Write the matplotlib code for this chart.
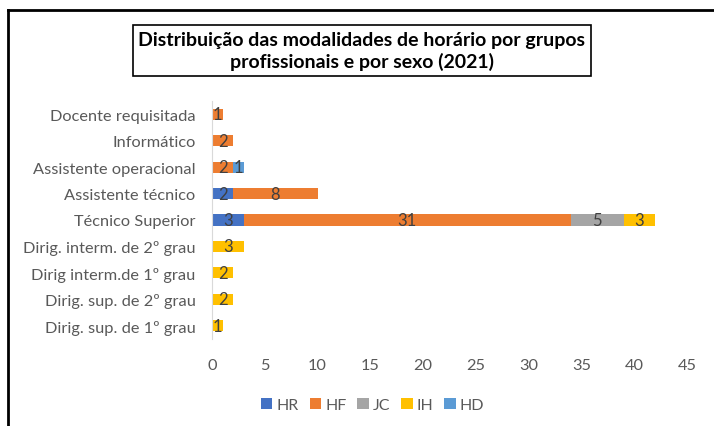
import matplotlib
matplotlib.use("Agg")
from matplotlib import pyplot as plt
from matplotlib.lines import Line2D
import numpy as np

plt.rcParams['font.family'] = ['Lato', 'DejaVu Sans']

categories = [
    "Dirig. sup. de 1º grau",
    "Dirig. sup. de 2º grau",
    "Dirig interm.de 1º grau",
    "Dirig. interm. de 2º grau",
    "Técnico Superior",
    "Assistente técnico",
    "Assistente operacional",
    "Informático",
    "Docente requisitada",
]
series_names = ["HR", "HF", "JC", "IH", "HD"]
hr = [0, 0, 0, 0, 3, 2, 0, 0, 0]
hf = [0, 0, 0, 0, 31, 8, 2, 2, 1]
jc = [0, 0, 0, 0, 5, 0, 0, 0, 0]
ih = [1, 2, 2, 3, 3, 0, 0, 0, 0]
hd = [0, 0, 0, 0, 0, 0, 1, 0, 0]
colors = ["#4472C4", "#ED7D31", "#A5A5A5", "#FFC000", "#5B9BD5"]
xticks = [0, 5, 10, 15, 20, 25, 30, 35, 40, 45]

fig = plt.figure(figsize=(7.14, 4.27), dpi=100)
ax = fig.add_axes([0.297, 0.204, 0.665, 0.557])

y = np.arange(len(categories))
left = np.zeros(len(categories))
for name, vals, c in zip(series_names, [hr, hf, jc, ih, hd], colors):
    vals = np.array(vals, dtype=float)
    bars = ax.barh(y, vals, left=left, height=0.42, color=c, label=name)
    for b, v in zip(bars, vals):
        if v > 0:
            ax.text(b.get_x() + b.get_width() / 2, b.get_y() + b.get_height() / 2,
                    f"{int(v)}", ha='center', va='center', fontsize=12, color='#404040')
    left += vals

ax.set_xlim(0, 45)
ax.set_ylim(-0.5, len(categories) - 0.5)
ax.set_xticks(xticks)
ax.set_yticks(y)
ax.set_yticklabels(categories)
ax.tick_params(length=0, labelsize=11.8, labelcolor='#595959')
ax.tick_params(axis='x', pad=14)
ax.tick_params(axis='y', pad=12)
for s in ['top', 'right', 'bottom']:
    ax.spines[s].set_visible(False)
ax.spines['left'].set_color('#D9D9D9')

fig.text(0.507, 0.88, "Distribuição das modalidades de horário por grupos\nprofissionais e por sexo (2021)",
         ha='center', va='center', fontsize=14, fontweight='bold', color='black', linespacing=1.25,
         bbox=dict(boxstyle='square,pad=0.3', facecolor='white', edgecolor='black', linewidth=1.2))

handles, labels = ax.get_legend_handles_labels()
fig.legend(handles, labels, loc='center', bbox_to_anchor=(0.522, 0.05), ncol=5, frameon=False,
           fontsize=11.5, labelcolor='#595959', handlelength=0.7, handleheight=0.7,
           handletextpad=0.25, columnspacing=0.7)

fig.add_artist(Line2D([8 / 714, 8 / 714], [0, 1 - 11 / 427], color='black', linewidth=2))
fig.add_artist(Line2D([8 / 714, 1], [1 - 11 / 427, 1 - 11 / 427], color='black', linewidth=2))

fig.savefig("out.png", dpi=100)
